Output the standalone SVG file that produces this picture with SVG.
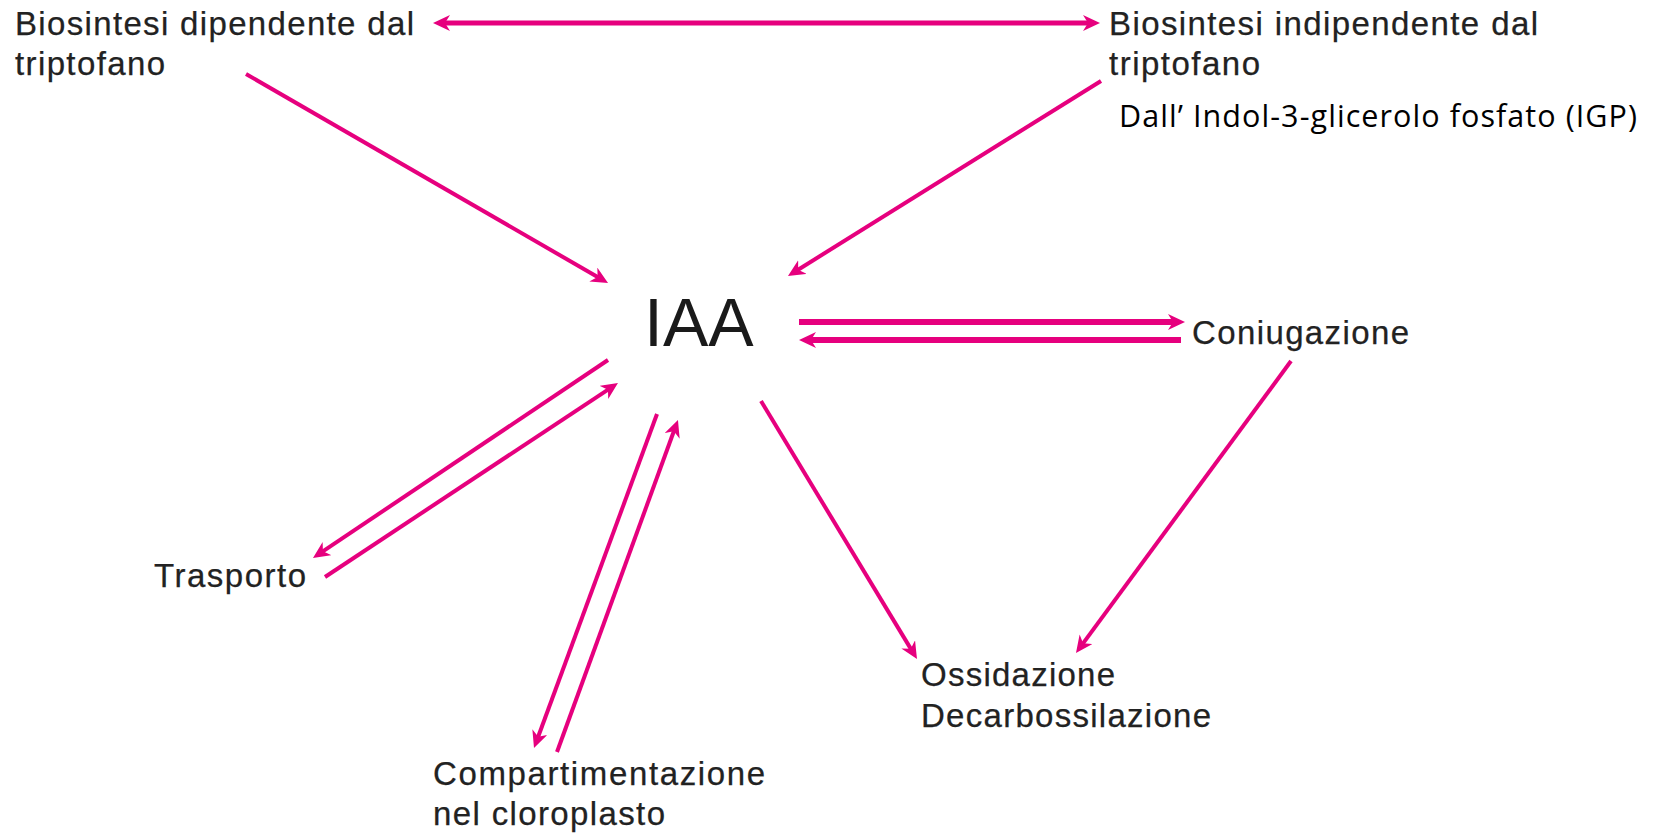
<svg xmlns="http://www.w3.org/2000/svg" width="1656" height="834" viewBox="0 0 1656 834">
<style>
.lbl{font-family:"Liberation Sans",Arial,Helvetica,sans-serif;font-size:33px;fill:#222;stroke:#222;stroke-width:0.25}
.iaa{font-family:"Liberation Sans",Arial,Helvetica,sans-serif;font-size:68px;fill:#1a1a1a}
.cal{font-family:"Open Sans","Noto Sans",sans-serif;font-size:30.5px;fill:#000}
.ln{stroke:#e6007e;stroke-width:4;fill:none;marker-end:url(#ah)}
.thick{stroke-width:6}
</style>
<defs>
<marker id="ah" markerUnits="userSpaceOnUse" markerWidth="22" markerHeight="22" refX="6" refY="8" orient="auto-start-reverse">
<path d="M0,0 L17,8 L0,16 L5,8 Z" fill="#e6007e"/>
</marker>
</defs>
<rect width="1656" height="834" fill="#fff"/>
<g id="connectors">
<line class="ln" x1="444" y1="23" x2="1089" y2="23" style="marker-start:url(#ah);stroke-width:5"/>
<line class="ln" x1="246" y1="74" x2="598.5" y2="277.5"/>
<line class="ln" x1="1101" y1="81" x2="797.3" y2="270.2"/>
<line class="ln thick" x1="799" y1="322" x2="1174" y2="322"/>
<line class="ln thick" x1="1181" y1="340" x2="810" y2="340"/>
<line class="ln" x1="1291" y1="361" x2="1082.5" y2="644.1"/>
<line class="ln" x1="761" y1="401" x2="911.3" y2="649.6"/>
<line class="ln" x1="608" y1="360" x2="322.1" y2="551.9"/>
<line class="ln" x1="325" y1="577" x2="608.8" y2="389.1"/>
<line class="ln" x1="657" y1="414" x2="537.8" y2="737.7"/>
<line class="ln" x1="557" y1="752" x2="674.2" y2="430.3"/>
</g>
<g id="node-dip">
<text class="lbl" x="15" y="35" textLength="399" lengthAdjust="spacing">Biosintesi dipendente dal</text>
<text class="lbl" x="15" y="75" textLength="150" lengthAdjust="spacing">triptofano</text>
</g>
<g id="node-indip">
<text class="lbl" x="1109" y="35" textLength="429" lengthAdjust="spacing">Biosintesi indipendente dal</text>
<text class="lbl" x="1109" y="75" textLength="151" lengthAdjust="spacing">triptofano</text>
<text class="cal" x="1119" y="127" textLength="518" lengthAdjust="spacing">Dall’ Indol-3-glicerolo fosfato (IGP)</text>
</g>
<g id="node-iaa">
<text class="iaa" x="644" y="346">IAA</text>
</g>
<g id="node-coniugazione">
<text class="lbl" x="1192" y="344" textLength="217" lengthAdjust="spacing">Coniugazione</text>
</g>
<g id="node-trasporto">
<text class="lbl" x="154" y="587" textLength="152" lengthAdjust="spacing">Trasporto</text>
</g>
<g id="node-compartimentazione">
<text class="lbl" x="433" y="785" textLength="332" lengthAdjust="spacing">Compartimentazione</text>
<text class="lbl" x="433" y="825" textLength="232" lengthAdjust="spacing">nel cloroplasto</text>
</g>
<g id="node-ossidazione">
<text class="lbl" x="921" y="686" textLength="194" lengthAdjust="spacing">Ossidazione</text>
<text class="lbl" x="921" y="727" textLength="290" lengthAdjust="spacing">Decarbossilazione</text>
</g>
</svg>
